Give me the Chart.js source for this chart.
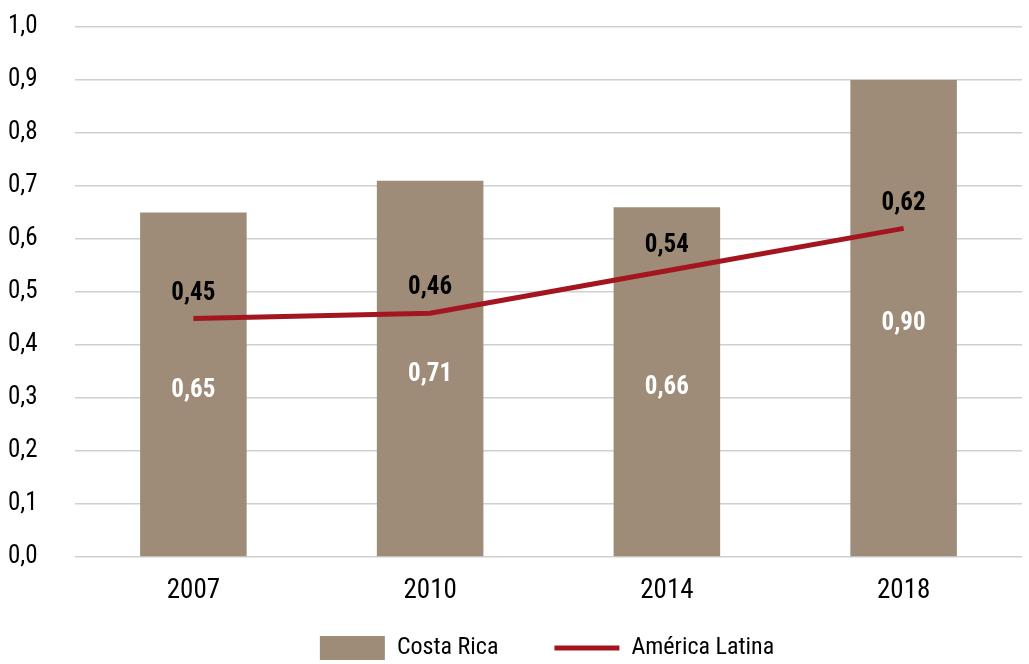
<!DOCTYPE html>
<html>
<head>
<meta charset="utf-8">
<script src="https://cdn.jsdelivr.net/npm/chart.js@4/dist/chart.umd.min.js"></script>
<style>
  html, body { margin: 0; padding: 0; background: #fff; }
  #wrap { width: 1029px; height: 664px; }
</style>
</head>
<body>
<div id="wrap"><canvas id="chart"></canvas></div>
<script>
const years = ['2007', '2010', '2014', '2018'];
const costaRica = [0.65, 0.71, 0.66, 0.90];
const americaLatina = [0.45, 0.46, 0.54, 0.62];
const yTicks = [0.0, 0.1, 0.2, 0.3, 0.4, 0.5, 0.6, 0.7, 0.8, 0.9, 1.0];

const FONT = "'Roboto Condensed', 'Liberation Sans Narrow', Roboto, sans-serif";
const LEGEND_PAD = 56;
const fmt = (v, d) => v.toFixed(d).replace('.', ',');

// labels drawn on top of bars and line points
const valueLabels = {
    id: 'valueLabels',
    afterDatasetsDraw(chart) {
        const ctx = chart.ctx;
        ctx.save();
        ctx.textAlign = 'center';
        ctx.textBaseline = 'middle';
        ctx.font = 'bold 25px ' + FONT;
        chart.data.datasets.forEach((ds, i) => {
            const meta = chart.getDatasetMeta(i);
            meta.data.forEach((el, j) => {
                const v = ds.data[j];
                if (ds.type === 'bar') {
                    ctx.fillStyle = '#ffffff';
                    ctx.fillText(fmt(v, 2), el.x, (el.y + el.base) / 2 + 6);
                } else {
                    ctx.fillStyle = '#000000';
                    ctx.fillText(fmt(v, 2), el.x, el.y - 25);
                }
            });
        });
        ctx.restore();
    }
};

// legend: wide gap between items, but keep it low and centred under the plot
const legendPlace = {
    id: 'legendPlace',
    afterLayout(chart) {
        const lg = chart.legend;
        lg.top -= LEGEND_PAD - 24;
        lg.left += 64;
    }
};

new Chart(document.getElementById('chart'), {
    data: {
        labels: years,
        datasets: [
            {
                type: 'line',
                label: 'América Latina',
                data: americaLatina,
                borderColor: '#a3161f',
                backgroundColor: '#a3161f',
                borderWidth: 5,
                pointRadius: 0,
                pointHoverRadius: 0,
                pointStyle: 'line',
                tension: 0,
                order: 0,
            },
            {
                type: 'bar',
                label: 'Costa Rica',
                data: costaRica,
                backgroundColor: '#9e8c78',
                categoryPercentage: 1,
                barPercentage: 0.45,
                pointStyle: 'rect',
                order: 1,
            },
        ],
    },
    options: {
        responsive: true,
        maintainAspectRatio: false,
        animation: false,
        layout: { padding: { top: 27, left: 8, right: 7, bottom: 0 } },
        plugins: {
            tooltip: { enabled: false },
            legend: {
                position: 'bottom',
                reverse: true,
                maxHeight: 52,
                labels: {
                    usePointStyle: true,
                    pointStyleWidth: 65,
                    boxHeight: 24,
                    padding: LEGEND_PAD,
                    color: '#000',
                    font: { family: FONT, size: 24 },
                },
            },
        },
        scales: {
            x: {
                afterFit(axis) { axis.height = 55; },
                grid: { display: false, drawTicks: false },
                border: { display: false },
                ticks: {
                    color: '#000',
                    padding: 18,
                    font: { family: FONT, size: 27 },
                },
            },
            y: {
                min: 0,
                max: 1,
                afterBuildTicks(axis) {
                    axis.ticks = yTicks.map(v => ({ value: v }));
                },
                afterFit(axis) { axis.width = 67; },
                grid: { color: '#d0d0d0', lineWidth: 1.5, drawTicks: false },
                border: { display: false },
                ticks: {
                    color: '#000',
                    crossAlign: 'far',
                    padding: 0,
                    font: { family: FONT, size: 25 },
                    callback: v => fmt(v, 1),
                },
            },
        },
    },
    plugins: [valueLabels, legendPlace],
});
</script>
</body>
</html>
